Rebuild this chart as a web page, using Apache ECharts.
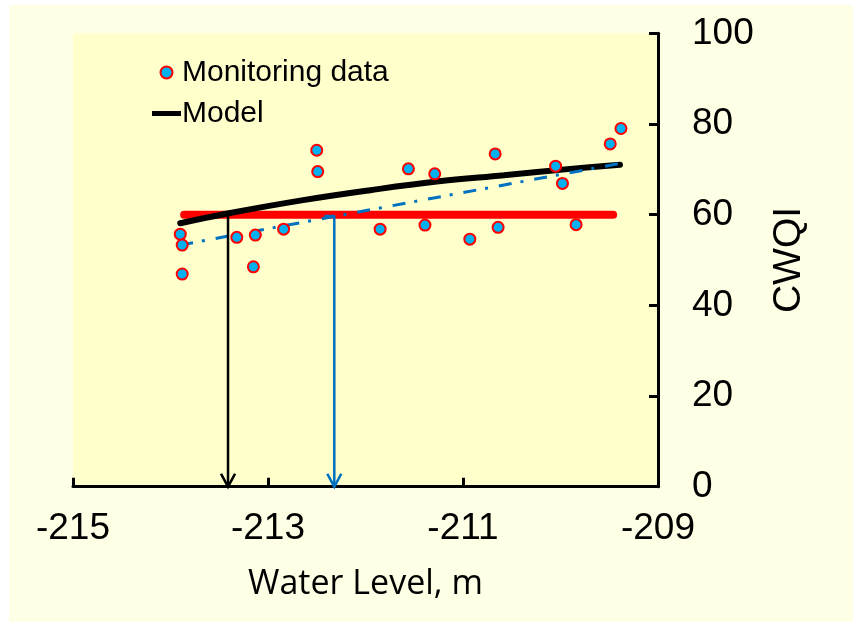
<!DOCTYPE html>
<html>
<head>
<meta charset="utf-8">
<script src="https://cdn.jsdelivr.net/npm/echarts@6/dist/echarts.min.js"></script>
<style>
  html, body { margin: 0; padding: 0; background: #ffffff; }
  #bg { position: absolute; left: 9px; top: 5px; width: 844px; height: 617px; background: #FFFFE6; }
  #chart { position: absolute; left: 0; top: 0; width: 853px; height: 622px; }
</style>
</head>
<body>
<div id="bg"></div>
<div id="chart"></div>
<script>
// ---- data ----
const monitoringX = [-213.90, -213.88, -213.88, -213.32, -213.13, -213.15, -212.84, -212.50, -212.49,
                     -211.85, -211.56, -211.29, -211.39, -210.67, -210.93, -210.64, -210.05, -209.98,
                     -209.84, -209.49, -209.38];
const monitoringY = [55.7, 53.3, 46.9, 55.0, 55.5, 48.5, 56.8, 74.2, 69.5,
                     56.8, 70.1, 69.0, 57.7, 73.4, 54.6, 57.2, 70.7, 66.9,
                     57.8, 75.6, 79.0];
const modelX = [-213.90, -213.43, -212.64, -211.95, -211.27, -210.58, -209.90, -209.39];
const modelY = [58.1, 60.2, 63.2, 65.4, 67.3, 68.7, 70.1, 71.0];
const trendX = [-213.90, -209.39];
const trendY = [53.3, 71.3];
const limitX = [-213.86, -209.46];
const limitY = [60, 60];
const blackArrowX = [-213.41, -213.41];
const blackArrowY = [60, 0];
const blueArrowX = [-212.42, -212.32, -212.32];
const blueArrowY = [59.7, 59.7, 0];
const xTicks = [-215, -213, -211, -209];
const yTicks = [0, 20, 40, 60, 80, 100];

const zip = (xs, ys) => xs.map((x, i) => [x, ys[i]]);
const ARROW = 'path://M0,0 L7,12 L14,0';
const arrowData = (xs, ys) => xs.map((x, i) => i === xs.length - 1
  ? { value: [x, ys[i]], symbol: ARROW }
  : { value: [x, ys[i]], symbol: 'none' });

const chart = echarts.init(document.getElementById('chart'));
const FONT = '"Liberation Sans", Arial, sans-serif';

chart.setOption({
  backgroundColor: 'transparent',
  animation: false,
  grid: {
    left: 73, right: 195, top: 33.3, bottom: 135.3,
    show: true, backgroundColor: '#FFFFCC', borderWidth: 0
  },
  legend: {
    data: [
      { name: 'Monitoring data', icon: 'circle' },
      { name: 'Model', icon: 'path://M0,0 L29,0 L29,5 L0,5 Z' }
    ],
    orient: 'vertical',
    left: 147, top: 52,
    itemWidth: 29, itemHeight: 12, itemGap: 10,
    textStyle: { fontSize: 30, fontFamily: FONT, color: '#000', lineHeight: 31, padding: [0, 0, 0, -4] }
  },
  xAxis: {
    type: 'value', min: -215, max: -209, interval: 2,
    axisLine: { onZero: false, lineStyle: { color: '#000', width: 3 } },
    axisTick: { inside: true, length: 9, lineStyle: { color: '#000', width: 3 } },
    axisLabel: { fontSize: 37, fontFamily: FONT, color: '#000', margin: 24,
                 formatter: v => xTicks.includes(v) ? String(v) : '' },
    splitLine: { show: false },
    name: 'Water Level, m', nameLocation: 'middle', nameGap: 81,
    nameTextStyle: { fontSize: 34, fontFamily: '"Open Sans", sans-serif', color: '#000' }
  },
  yAxis: {
    type: 'value', min: 0, max: 100, interval: 20, position: 'right',
    axisLine: { show: true, lineStyle: { color: '#000', width: 3 } },
    axisTick: { show: true, inside: true, length: 9, lineStyle: { color: '#000', width: 3 } },
    axisLabel: { fontSize: 37, fontFamily: FONT, color: '#000', margin: 34,
                 formatter: v => yTicks.includes(v) ? String(v) : '' },
    splitLine: { show: false },
    name: 'CWQI', nameLocation: 'middle', nameRotate: 90, nameGap: 112,
    nameTextStyle: { fontSize: 39, fontFamily: FONT, color: '#000' }
  },
  series: [
    {
      name: 'Limit', type: 'line', data: zip(limitX, limitY), symbol: 'none', z: 3,
      lineStyle: { color: '#FF0000', width: 8, cap: 'round' }
    },
    {
      name: 'Model', type: 'line', data: zip(modelX, modelY), symbol: 'none', smooth: 0.4, z: 4,
      itemStyle: { color: '#000' },
      lineStyle: { color: '#000', width: 6, cap: 'round' }
    },
    {
      name: 'Trend', type: 'line', data: zip(trendX, trendY), symbol: 'none', z: 5,
      lineStyle: { color: '#0070C0', width: 3, type: [13, 9, 3, 11] }
    },
    {
      name: 'ArrowBlack', type: 'line', data: arrowData(blackArrowX, blackArrowY), z: 6,
      symbolSize: [14, 13], symbolOffset: [0, '-50%'],
      itemStyle: { color: 'none', borderColor: '#000', borderWidth: 2.5 },
      lineStyle: { color: '#000', width: 2.5 }
    },
    {
      name: 'ArrowBlue', type: 'line', data: arrowData(blueArrowX, blueArrowY), z: 6,
      symbolSize: [14, 13], symbolOffset: [0, '-50%'],
      itemStyle: { color: 'none', borderColor: '#0070C0', borderWidth: 2.5 },
      lineStyle: { color: '#0070C0', width: 2.5 }
    },
    {
      name: 'Monitoring data', type: 'scatter', data: zip(monitoringX, monitoringY), z: 8,
      symbol: 'circle', symbolSize: 11,
      itemStyle: { color: '#00B0F0', borderColor: '#FF0000', borderWidth: 2, opacity: 1 }
    }
  ]
});
</script>
</body>
</html>
